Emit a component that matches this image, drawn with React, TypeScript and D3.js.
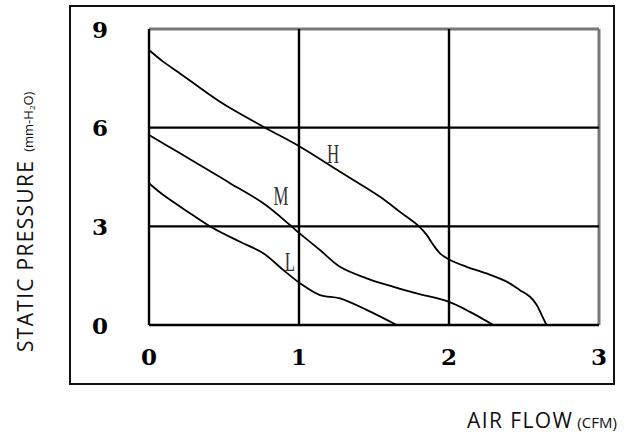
import React from 'react';
import * as d3 from 'd3';

// axis ticks
const xTicks = [0, 1, 2, 3];
const yTicks = [0, 3, 6, 9];

// fan curves (CFM, mm-H2O)
const hFlow = [0, 0.096, 0.207, 0.473, 0.762, 1.007, 1.273, 1.54, 1.673, 1.8, 1.851, 1.896, 1.94, 2.0, 2.118, 2.25, 2.384, 2.473, 2.54, 2.585, 2.618, 2.65];
const hPress = [8.36, 8.0, 7.65, 6.79, 6.03, 5.42, 4.66, 3.9, 3.44, 3.0, 2.74, 2.43, 2.18, 1.99, 1.77, 1.57, 1.32, 1.06, 0.86, 0.61, 0.3, 0];

const mFlow = [0, 0.207, 0.473, 0.54, 0.762, 0.94, 1.0, 1.14, 1.273, 1.451, 1.63, 1.784, 1.996, 2.14, 2.295];
const mPress = [5.78, 5.22, 4.5, 4.31, 3.7, 3.04, 2.8, 2.28, 1.77, 1.42, 1.16, 0.96, 0.71, 0.4, 0];

const lFlow = [0, 0.096, 0.273, 0.429, 0.607, 0.762, 0.896, 1.007, 1.14, 1.273, 1.451, 1.651];
const lPress = [4.31, 3.95, 3.4, 2.94, 2.53, 2.18, 1.67, 1.27, 0.91, 0.81, 0.46, 0];

const curveNames = ['H', 'M', 'L'];
const labelFlow = [1.227, 0.88, 0.94];
const labelPress = [4.92, 3.65, 1.64];

const W = 633;
const H = 436;

export default function App() {
  const x = d3.scaleLinear().domain([0, 3]).range([149, 599]);
  const y = d3.scaleLinear().domain([0, 9]).range([325, 29]);

  const line = d3
    .line<[number, number]>()
    .x(d => x(d[0]))
    .y(d => y(d[1]))
    .curve(d3.curveCatmullRom.alpha(0.5));

  const series = [
    hFlow.map((f, i) => [f, hPress[i]] as [number, number]),
    mFlow.map((f, i) => [f, mPress[i]] as [number, number]),
    lFlow.map((f, i) => [f, lPress[i]] as [number, number]),
  ];

  const [x0, x1] = x.range();
  const [y0, y1] = y.range();

  return (
    <svg
      width={W}
      height={H}
      style={{ position: 'absolute', left: 0, top: 0, display: 'block', background: '#fff' }}
    >
      {/* outer frame */}
      <rect x={70} y={6} width={544} height={378} fill="none" stroke="#111" strokeWidth={2} />

      {/* gray top / right plot borders */}
      <line x1={x0} x2={x1} y1={y1} y2={y1} stroke="#777" strokeWidth={3} />
      <line x1={x1} x2={x1} y1={y1} y2={y0} stroke="#777" strokeWidth={3} />

      {/* grid */}
      {xTicks.slice(1, -1).map(t => (
        <line key={'gx' + t} x1={x(t)} x2={x(t)} y1={y1} y2={y0} stroke="#000" strokeWidth={2.4} />
      ))}
      {yTicks.slice(1, -1).map(t => (
        <line key={'gy' + t} x1={x0} x2={x1} y1={y(t)} y2={y(t)} stroke="#000" strokeWidth={2.4} />
      ))}

      {/* left / bottom axes */}
      <line x1={x0} x2={x0} y1={y1} y2={y0} stroke="#000" strokeWidth={2.4} />
      <line x1={x0} x2={x1} y1={y0} y2={y0} stroke="#000" strokeWidth={2.4} />

      {/* curves */}
      {series.map((s, i) => (
        <path key={curveNames[i]} d={line(s) || ''} fill="none" stroke="#000" strokeWidth={1.8} />
      ))}

      {/* curve labels */}
      {curveNames.map((n, i) => (
        <text
          key={'lab' + n}
          transform={`translate(${x(labelFlow[i])},${y(labelPress[i])}) scale(0.6,1)`}
          textAnchor="middle"
          fontFamily="'Liberation Serif', serif"
          fontSize={28}
          fill="#333"
        >
          {n}
        </text>
      ))}

      {/* tick labels */}
      {yTicks.map(t => (
        <text
          key={'ty' + t}
          x={100}
          y={y(t)}
          textAnchor="middle"
          dominantBaseline="central"
          fontFamily="'DejaVu Serif', serif"
          fontWeight="bold"
          fontSize={23}
          fill="#000"
        >
          {t}
        </text>
      ))}
      {xTicks.map(t => (
        <text
          key={'tx' + t}
          x={x(t)}
          y={356}
          textAnchor="middle"
          dominantBaseline="central"
          fontFamily="'DejaVu Serif', serif"
          fontWeight="bold"
          fontSize={23}
          fill="#000"
        >
          {t}
        </text>
      ))}

      {/* axis titles */}
      <text
        transform="translate(33,352) rotate(-90)"
        fontFamily="'Open Sans', sans-serif"
        fontSize={21}
        fill="#111"
      >
        <tspan letterSpacing={1.3}>STATIC PRESSURE</tspan>
        <tspan dx={8} fontSize={13}>(mm-H</tspan>
        <tspan fontSize={8} dy={2}>2</tspan>
        <tspan fontSize={13} dy={-2}>O)</tspan>
      </text>
      <text x={467} y={428} fontFamily="'Open Sans', sans-serif" fontSize={21} fill="#111">
        <tspan letterSpacing={1.4}>AIR FLOW</tspan>
        <tspan dx={4} fontSize={15}>(CFM)</tspan>
      </text>
    </svg>
  );
}
